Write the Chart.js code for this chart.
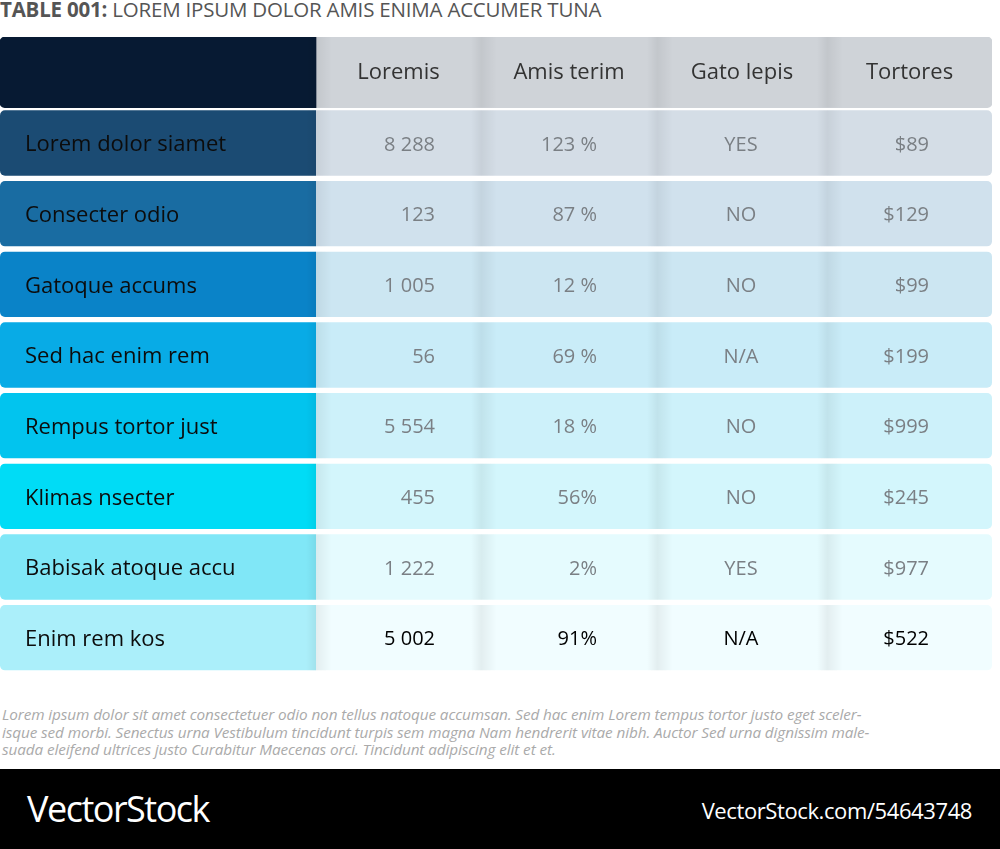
<!DOCTYPE html>
<html><head><meta charset="utf-8">
<script src="https://cdn.jsdelivr.net/npm/chart.js@4"></script>
<style>
body{margin:0;width:1000px;height:849px;background:#fff;position:relative;overflow:hidden;font-family:"Open Sans",sans-serif}
#title{position:absolute;left:0;top:-5px;font-size:20.5px;color:#555;letter-spacing:-0.2px}
#wrap{position:absolute;left:0;top:37px;width:992px;height:636px}
#cap{position:absolute;left:2px;top:706px;width:1000px;font-size:15.3px;font-style:italic;color:#aaa;line-height:17.5px;white-space:nowrap;letter-spacing:-0.1px}
#foot{position:absolute;left:0;top:769px;width:1000px;height:80px;background:#000;color:#fff}
#foot .a{position:absolute;left:27px;top:15px;font-size:36px;letter-spacing:-1.5px}
#foot .b{position:absolute;right:28px;top:26px;font-size:22px;letter-spacing:-0.4px}
</style></head><body>
<div id="title"><b>TABLE 001:</b> LOREM IPSUM DOLOR AMIS ENIMA ACCUMER TUNA</div>
<div id="wrap"><canvas id="c"></canvas></div>
<div id="cap">Lorem ipsum dolor sit amet consectetuer odio non tellus natoque accumsan. Sed hac enim Lorem tempus tortor justo eget sceler-<br>isque sed morbi. Senectus urna Vestibulum tincidunt turpis sem magna Nam hendrerit vitae nibh. Auctor Sed urna dignissim male-<br>suada eleifend ultrices justo Curabitur Maecenas orci. Tincidunt adipiscing elit et et.</div>
<div id="foot"><div class="a">VectorStock</div><div class="b">VectorStock.com/54643748</div></div>
<script>
const columns = ["", "Loremis", "Amis terim", "Gato lepis", "Tortores"];
const rowLabels = ["Lorem dolor siamet","Consecter odio","Gatoque accums","Sed hac enim rem","Rempus tortor just","Klimas nsecter","Babisak atoque accu","Enim rem kos"];
const loremis = ["8 288","123","1 005","56","5 554","455","1 222","5 002"];
const amisTerim = ["123 %","87 %","12 %","69 %","18 %","56%","2%","91%"];
const gatoLepis = ["YES","NO","NO","N/A","NO","NO","YES","N/A"];
const tortores = ["$89","$129","$99","$199","$999","$245","$977","$522"];

// layout (not data)
const colEdges = [0,316,481,657,827,992];
const leftColors = ["#071a33","#1b4b73","#196ca2","#0a83c8","#08abe6","#02c4ee","#00dcf6","#80e7f7","#abeffa"];
const cellColors = ["#cfd3d8","#d4dde6","#d0e1ed","#cce6f2","#c9ecf8","#cdf1fa","#d3f6fc","#e5fbfe","#f1fdff"];
const yCats = ["H"].concat(rowLabels.map((r,i)=>"R"+i));

const datasets = [];
for (let c=0;c<5;c++){
  const rad = c===0?{topLeft:5,bottomLeft:5}:(c===4?{topRight:5,bottomRight:5}:0);
  datasets.push({
    data: yCats.map((_,i)=>i===0?null:[colEdges[c], colEdges[c+1]]),
    backgroundColor: c===0?leftColors:cellColors,
    borderRadius: rad, borderSkipped:false,
    grouped:false, barPercentage:0.925, categoryPercentage:1
  });
  datasets.push({
    data: yCats.map((_,i)=>i===0?[colEdges[c], colEdges[c+1]]:null),
    backgroundColor: c===0?leftColors:cellColors,
    borderRadius: rad, borderSkipped:false,
    grouped:false, barPercentage:1, categoryPercentage:1
  });
}
const valueCols = [loremis, amisTerim, gatoLepis, tortores];
const valueAnchor = [[435,"right"],[597,"right"],[741,"center"],[929,"right"]];

const tablePlugin = {
  id:"tbl",
  afterDatasetsDraw(chart){
    const ctx=chart.ctx, x=chart.scales.x, y=chart.scales.y;
    const bars=[chart.getDatasetMeta(1).data[0]].concat(chart.getDatasetMeta(0).data.slice(1));
    ctx.save();
    for (const e of [316,481,657,827]){
      const px=x.getPixelForValue(e);
      bars.forEach(b=>{
        const top=b.y-b.height/2;
        const g=ctx.createLinearGradient(px-10,0,px+16,0);
        g.addColorStop(0,"rgba(0,0,0,0)");
        g.addColorStop(0.4,"rgba(0,0,0,0.06)");
        g.addColorStop(1,"rgba(0,0,0,0)");
        ctx.fillStyle=g; ctx.fillRect(px-10,top,26,b.height);
      });
    }
    ctx.textBaseline="middle";
    ctx.fillStyle="#333"; ctx.font="22px 'Open Sans'"; ctx.textAlign="center";
    for (let c=1;c<5;c++){
      const cx=(x.getPixelForValue(colEdges[c])+x.getPixelForValue(colEdges[c+1]))/2;
      ctx.fillText(columns[c],cx,y.getPixelForValue(0));
    }
    rowLabels.forEach((r,i)=>{
      const py=y.getPixelForValue(i+1)+2;
      ctx.textAlign="left"; ctx.fillStyle="#0c0c0c"; ctx.font="22px 'Open Sans'";
      ctx.fillText(r,x.getPixelForValue(25),py);
      ctx.font="20px 'Open Sans'";
      ctx.fillStyle = i===7?"#000":"#7a7f84";
      valueCols.forEach((arr,k)=>{
        ctx.textAlign=valueAnchor[k][1];
        ctx.fillText(arr[i],x.getPixelForValue(valueAnchor[k][0]),py);
      });
    });
    ctx.restore();
  }
};

new Chart(document.getElementById("c"),{
  type:"bar",
  data:{labels:yCats,datasets},
  options:{
    indexAxis:"y", responsive:true, maintainAspectRatio:false, animation:false,
    layout:{padding:0},
    plugins:{legend:{display:false},tooltip:{enabled:false}},
    scales:{
      x:{type:"linear",min:0,max:992,display:false},
      y:{type:"category",display:false,offset:true}
    }
  },
  plugins:[tablePlugin]
});
</script>
</body></html>
